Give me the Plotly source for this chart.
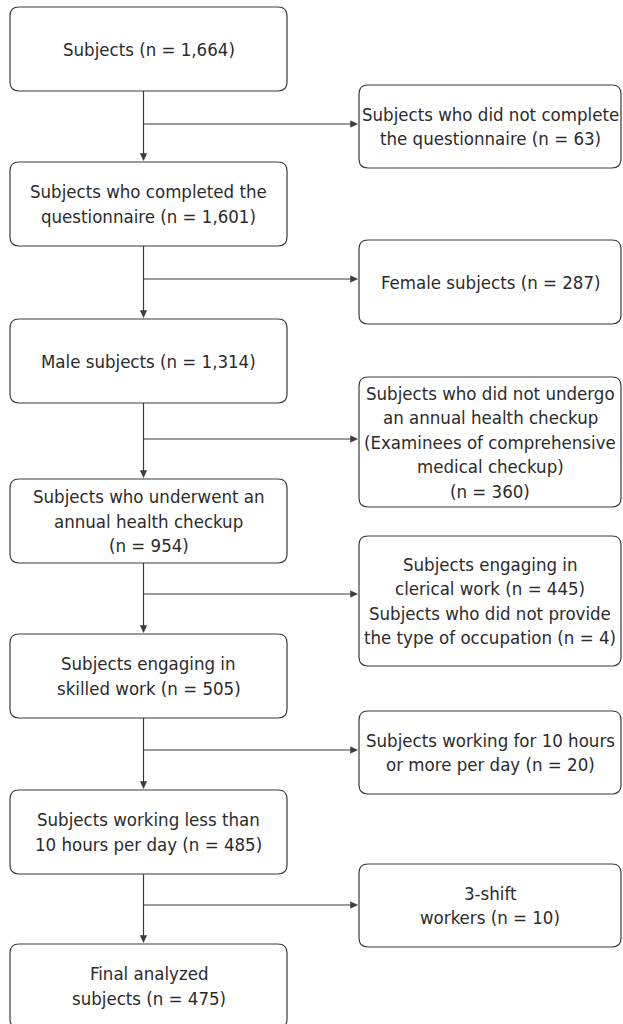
import plotly.graph_objects as go

# ---- content ----
main_labels = [
    ["Subjects (n = 1,664)"],
    ["Subjects who completed the", "questionnaire (n = 1,601)"],
    ["Male subjects (n = 1,314)"],
    ["Subjects who underwent an", "annual health checkup", "(n = 954)"],
    ["Subjects engaging in", "skilled work (n = 505)"],
    ["Subjects working less than", "10 hours per day (n = 485)"],
    ["Final analyzed", "subjects (n = 475)"],
]
excluded_labels = [
    ["Subjects who did not complete", "the questionnaire (n = 63)"],
    ["Female subjects (n = 287)"],
    ["Subjects who did not undergo", "an annual health checkup", "(Examinees of comprehensive",
     "medical checkup)", "(n = 360)"],
    ["Subjects engaging in", "clerical work (n = 445)", "Subjects who did not provide",
     "the type of occupation (n = 4)"],
    ["Subjects working for 10 hours", "or more per day (n = 20)"],
    ["3-shift", "workers (n = 10)"],
]

# ---- layout geometry (pixels) ----
W, H = 623, 1024
LX0, LX1 = 10, 287
RX0, RX1 = 359, 621
main_tops = [7, 162, 319, 479, 634, 790, 944]
main_h = 84
ex_tops = [85, 240, 377, 536, 711, 864]
ex_bots = [168, 324, 507, 666, 794, 947]
branch_y = [124, 279, 439, 594, 750, 905]
trunk_x = 143.5
line_gap = 24.5
radius = 9
LC = "#3a3a3a"
TC = "#2b2b2b"
FONT = "DejaVu Sans Condensed, Liberation Sans, Arial, sans-serif"
FS = 18.5


def rbox(x0, y0, x1, y1, r=radius):
    return (f"M {x0+r},{y0} L {x1-r},{y0} Q {x1},{y0} {x1},{y0+r} "
            f"L {x1},{y1-r} Q {x1},{y1} {x1-r},{y1} L {x0+r},{y1} "
            f"Q {x0},{y1} {x0},{y1-r} L {x0},{y0+r} Q {x0},{y0} {x0+r},{y0} Z")


shapes = []
annotations = []


def add_text(lines, cx, cy):
    n = len(lines)
    for i, t in enumerate(lines):
        y = cy + (i - (n - 1) / 2) * line_gap
        annotations.append(dict(x=cx, y=y, xref="x", yref="y", text=t, showarrow=False,
                                xanchor="center", yanchor="middle",
                                font=dict(family=FONT, size=FS, color=TC)))


for i, lab in enumerate(main_labels):
    y0 = main_tops[i]
    y1 = y0 + main_h
    shapes.append(dict(type="path", path=rbox(LX0, y0, LX1, y1), xref="x", yref="y",
                       line=dict(color=LC, width=1.2), fillcolor="white"))
    add_text(lab, (LX0 + LX1) / 2, (y0 + y1) / 2)

for i, lab in enumerate(excluded_labels):
    y0, y1 = ex_tops[i], ex_bots[i]
    shapes.append(dict(type="path", path=rbox(RX0, y0, RX1, y1), xref="x", yref="y",
                       line=dict(color=LC, width=1.2), fillcolor="white"))
    add_text(lab, (RX0 + RX1) / 2, (y0 + y1) / 2)

# connectors
AL, AW = 7, 3.2
for i in range(len(main_labels) - 1):
    ya = main_tops[i] + main_h
    yb = main_tops[i + 1] - 1.5
    shapes.append(dict(type="line", x0=trunk_x, x1=trunk_x, y0=ya, y1=yb - AL + 1,
                       xref="x", yref="y", line=dict(color=LC, width=1.2)))
    shapes.append(dict(type="path", xref="x", yref="y",
                       path=f"M {trunk_x-AW},{yb-AL} L {trunk_x+AW},{yb-AL} L {trunk_x},{yb} Z",
                       line=dict(color=LC, width=0.5), fillcolor=LC))
    by = branch_y[i]
    xb = RX0 - 1.5
    shapes.append(dict(type="line", x0=trunk_x, x1=xb - AL + 1, y0=by, y1=by,
                       xref="x", yref="y", line=dict(color=LC, width=1.2)))
    shapes.append(dict(type="path", xref="x", yref="y",
                       path=f"M {xb-AL},{by-AW} L {xb-AL},{by+AW} L {xb},{by} Z",
                       line=dict(color=LC, width=0.5), fillcolor=LC))

fig = go.Figure()
fig.add_trace(go.Scatter(x=[0, W], y=[0, H], mode="markers", marker=dict(opacity=0),
                         hoverinfo="skip", showlegend=False))
fig.update_layout(
    width=W, height=H, margin=dict(l=0, r=0, t=0, b=0),
    paper_bgcolor="white", plot_bgcolor="white",
    xaxis=dict(range=[0, W], visible=False, fixedrange=True),
    yaxis=dict(range=[H, 0], visible=False, fixedrange=True),
    shapes=shapes, annotations=annotations, showlegend=False,
)
fig.write_html("out.html", config={"displayModeBar": False},
               post_script="document.body.style.margin='0';document.body.style.overflow='hidden';")
